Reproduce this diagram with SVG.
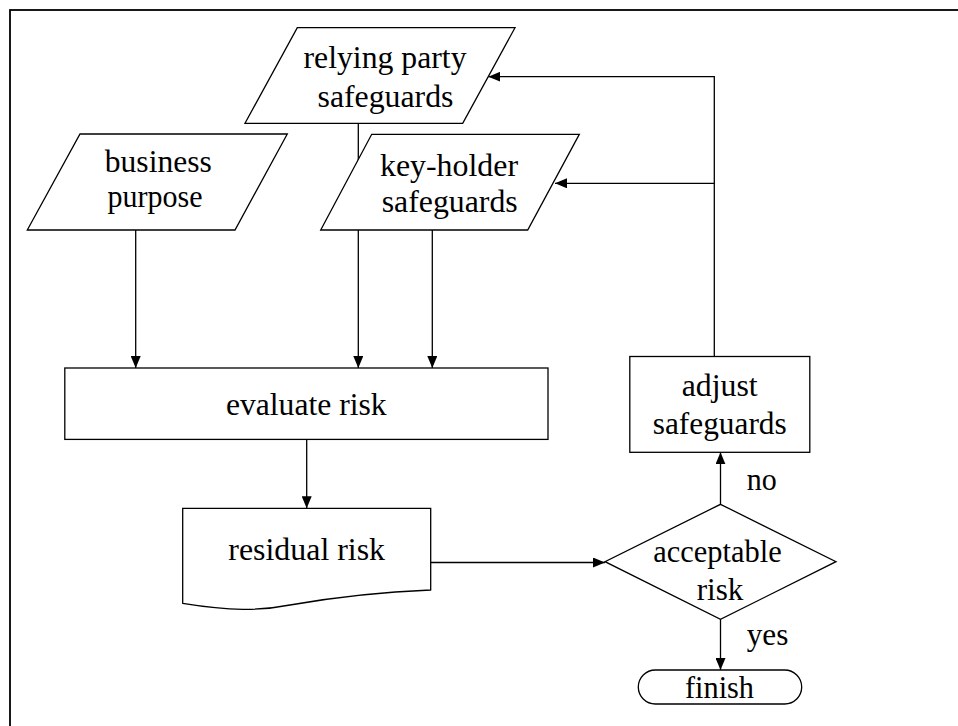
<svg xmlns="http://www.w3.org/2000/svg" width="958" height="726" viewBox="0 0 958 726">
<style>
.s{fill:#fff;stroke:#000;stroke-width:1.3}
.c{fill:none;stroke:#000;stroke-width:1.3}
text{font-family:"Liberation Serif","Times New Roman",serif;font-size:31.5px;fill:#000;text-anchor:middle}
</style>
<defs>
<marker id="a" viewBox="0 0 12 10" refX="12" refY="5" markerWidth="12" markerHeight="10" markerUnits="userSpaceOnUse" orient="auto">
<path d="M0,0L12,5L0,10z" fill="#000"/>
</marker>
</defs>
<rect x="0" y="0" width="958" height="726" fill="#fff"/>
<rect x="10" y="10" width="970" height="740" fill="none" stroke="#000" stroke-width="1.8"/>
<g id="connectors">
<path class="c" d="M135.7,230V368" marker-end="url(#a)"/>
<path class="c" d="M358.3,123.3V368" marker-end="url(#a)"/>
<path class="c" d="M432.3,230V368" marker-end="url(#a)"/>
<path class="c" d="M306.7,439.4V508.3" marker-end="url(#a)"/>
<path class="c" d="M430.7,562.5H605" marker-end="url(#a)"/>
<path class="c" d="M720.5,504.3V452.3" marker-end="url(#a)"/>
<path class="c" d="M720.5,619.3V670" marker-end="url(#a)"/>
<path class="c" d="M714.3,356.5V76.7H488.3" marker-end="url(#a)"/>
<path class="c" d="M714.3,183.3H555" marker-end="url(#a)"/>
</g>
<g id="relying">
<polygon class="s" points="297.3,27.7 515,27.7 462.7,123.3 245,123.3"/>
<text x="385" y="67.5" textLength="163" lengthAdjust="spacingAndGlyphs">relying party</text>
<text x="385.5" y="106.5" textLength="136" lengthAdjust="spacingAndGlyphs">safeguards</text>
</g>
<g id="business">
<polygon class="s" points="80,134 287.3,134 235,230 27.3,230"/>
<text x="158.3" y="171.5" textLength="107" lengthAdjust="spacingAndGlyphs">business</text>
<text x="155" y="206.5" textLength="95" lengthAdjust="spacingAndGlyphs">purpose</text>
</g>
<g id="keyholder">
<polygon class="s" points="371.7,134.3 579.3,134.3 527.7,230 320.7,230"/>
<text x="449" y="175.5" textLength="138" lengthAdjust="spacingAndGlyphs">key-holder</text>
<text x="449.7" y="212" textLength="136" lengthAdjust="spacingAndGlyphs">safeguards</text>
</g>
<g id="evaluate">
<rect class="s" x="64.8" y="368" width="483.2" height="71.4"/>
<text x="306.3" y="414.5" textLength="160.7" lengthAdjust="spacingAndGlyphs">evaluate risk</text>
</g>
<g id="residual">
<path class="s" d="M182.7,508.3H430.7V590C380,592 330,598 290,605C260,611 230,611 182.7,603.3Z"/>
<text x="306.7" y="560" textLength="156.7" lengthAdjust="spacingAndGlyphs">residual risk</text>
</g>
<g id="adjust">
<rect class="s" x="629.8" y="356.5" width="180" height="95.8"/>
<text x="719.7" y="396" textLength="76" lengthAdjust="spacingAndGlyphs">adjust</text>
<text x="719.7" y="434" textLength="134" lengthAdjust="spacingAndGlyphs">safeguards</text>
</g>
<g id="acceptable">
<polygon class="s" points="720.5,504.3 836,561.7 720.5,619.3 605,561.7"/>
<text x="717.5" y="561.7" textLength="128.3" lengthAdjust="spacingAndGlyphs">acceptable</text>
<text x="720" y="600" textLength="46.7" lengthAdjust="spacingAndGlyphs">risk</text>
</g>
<g id="labels">
<text x="761.7" y="490" textLength="30" lengthAdjust="spacingAndGlyphs">no</text>
<text x="767.5" y="645" textLength="41.7" lengthAdjust="spacingAndGlyphs">yes</text>
</g>
<g id="finish">
<rect class="s" x="638.3" y="670" width="163.4" height="34" rx="17" ry="17"/>
<text x="719.5" y="698.3" textLength="69" lengthAdjust="spacingAndGlyphs">finish</text>
</g>
</svg>
